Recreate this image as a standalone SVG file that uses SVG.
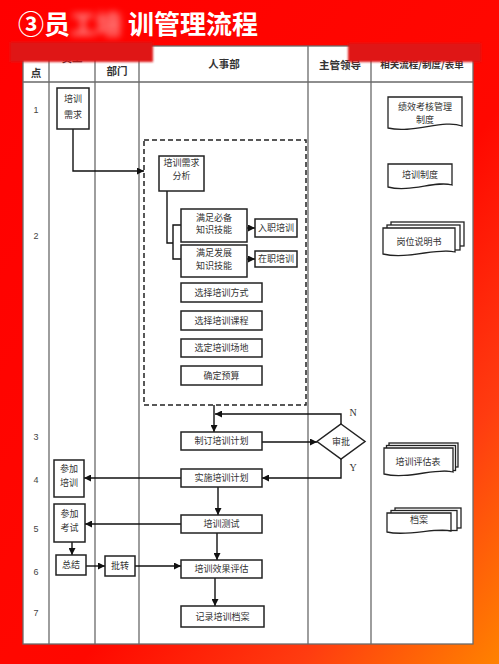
<svg xmlns="http://www.w3.org/2000/svg" width="499" height="664" viewBox="0 0 499 664">
<defs>
<linearGradient id="bg" x1="0" y1="0" x2="1" y2="1">
<stop offset="0" stop-color="#ff0000"/>
<stop offset="0.58" stop-color="#ff0800"/>
<stop offset="0.8" stop-color="#ff3c10"/>
<stop offset="1" stop-color="#ff8200"/>
</linearGradient>
<filter id="blur" x="-20%" y="-50%" width="140%" height="200%"><feGaussianBlur stdDeviation="1.2"/></filter>
<filter id="blur2" x="-20%" y="-50%" width="140%" height="200%"><feGaussianBlur stdDeviation="3.5"/></filter>
<marker id="ah" viewBox="0 0 10 10" refX="10" refY="5" markerWidth="7" markerHeight="7" orient="auto" markerUnits="userSpaceOnUse"><path d="M0,0 L10,5 L0,10 z" fill="#111"/></marker>
<style>
.grid{stroke:#6a6a6a;stroke-width:1.3;fill:none}
.box{fill:#fff;stroke:#222;stroke-width:1.5}
.doc{fill:#fff;stroke:#222;stroke-width:1.3}
.t{font-family:"Noto Sans CJK SC","Noto Sans",sans-serif;font-size:9px;fill:#333;text-anchor:middle}
.h{font-family:"Noto Sans CJK SC","Noto Sans",sans-serif;font-size:10.5px;font-weight:bold;fill:#333;text-anchor:middle}
.n{font-family:"Liberation Sans",sans-serif;font-size:9px;fill:#444;text-anchor:middle}
.yn{font-family:"Liberation Serif",serif;font-size:10px;fill:#333;text-anchor:middle}
.c{fill:none;stroke:#111;stroke-width:1.4}
.ca{fill:none;stroke:#111;stroke-width:1.4;marker-end:url(#ah)}
.ttl{font-family:"Noto Sans CJK SC","Noto Sans",sans-serif;font-size:26px;font-weight:bold;fill:#fff}
</style>
</defs>
<rect x="0" y="0" width="499" height="664" fill="url(#bg)"/>

<!-- title -->
<g id="title">
<text class="ttl" x="18" y="34">③员</text>
<text class="ttl" x="70" y="34" filter="url(#blur2)" opacity="0.6">工培</text>
<text class="ttl" x="128" y="34">训管理流程</text>
</g>

<!-- table -->
<g id="table">
<rect x="23" y="46" width="450" height="598" fill="#fff" stroke="#6a6a6a" stroke-width="1.3"/>
<path class="grid" d="M49,46V644M95,46V644M139,46V644M308,46V644M371,46V644M23,82H473"/>
<text class="h" x="36" y="77">点</text>
<text class="h" x="72" y="62">员工</text>
<text class="h" x="117" y="75">部门</text>
<text class="h" x="224" y="68">人事部</text>
<text class="h" x="340" y="69">主管领导</text>
<text class="h" x="422" y="68" style="font-size:9.5px">相关流程/制度/表单</text>
<text class="n" x="36" y="113">1</text>
<text class="n" x="36" y="239">2</text>
<text class="n" x="36" y="440">3</text>
<text class="n" x="36" y="483">4</text>
<text class="n" x="36" y="532">5</text>
<text class="n" x="36" y="575">6</text>
<text class="n" x="36" y="616">7</text>
</g>

<!-- red smudges over header -->
<g id="smudges">
<rect x="10" y="42" width="143" height="20" fill="#df1818" filter="url(#blur)"/>
<rect x="348" y="43" width="133" height="19" fill="#df1818" filter="url(#blur)"/>
</g>

<!-- connectors -->
<g id="connectors">
<path class="ca" d="M73,129V171H144"/>
<path class="c" d="M167,191V243H173M182,225H173V259H182"/>
<path class="ca" d="M247,228H255"/>
<path class="ca" d="M247,259H255"/>
<path class="ca" d="M214,405V432"/>
<path class="ca" d="M341,424V414H215"/>
<path class="ca" d="M262,442H317"/>
<path class="ca" d="M341,459V478H262"/>
<path class="ca" d="M181,478H84"/>
<path class="ca" d="M218,487V515"/>
<path class="ca" d="M181,524H85"/>
<path class="ca" d="M72,542V555"/>
<path class="ca" d="M86,566H105"/>
<path class="ca" d="M135,566H181"/>
<path class="ca" d="M217,533V560"/>
<path class="ca" d="M215,578V606"/>
<text class="yn" x="353" y="416">N</text>
<text class="yn" x="353" y="471">Y</text>
</g>

<!-- dashed group frame -->
<g id="analysis-frame">
<rect x="144" y="140" width="162" height="265" fill="none" stroke="#222" stroke-width="1.5" stroke-dasharray="5,3"/>
</g>

<g id="n-xuqiu"><rect class="box" x="57" y="88" width="32" height="41"/><text class="t" x="73" y="102">培训</text><text class="t" x="73" y="118">需求</text></g>
<g id="n-fenxi"><rect class="box" x="159" y="156" width="45" height="35"/><text class="t" x="181.5" y="165.5">培训需求</text><text class="t" x="181.5" y="179">分析</text></g>
<g id="n-bibei"><rect class="box" x="181" y="209" width="66" height="33"/><text class="t" x="214" y="220.5">满足必备</text><text class="t" x="214" y="233">知识技能</text></g>
<g id="n-fazhan"><rect class="box" x="181" y="245" width="66" height="32"/><text class="t" x="214" y="256">满足发展</text><text class="t" x="214" y="269">知识技能</text></g>
<g id="n-ruzhi"><rect class="box" x="255" y="219" width="42" height="18"/><text class="t" x="276" y="231">入职培训</text></g>
<g id="n-zaizhi"><rect class="box" x="255" y="251" width="42" height="16"/><text class="t" x="276" y="262">在职培训</text></g>
<g id="n-fangshi"><rect class="box" x="181" y="283" width="81" height="19"/><text class="t" x="221.5" y="295.5">选择培训方式</text></g>
<g id="n-kecheng"><rect class="box" x="181" y="311" width="81" height="19"/><text class="t" x="221.5" y="323.5">选择培训课程</text></g>
<g id="n-changdi"><rect class="box" x="181" y="339" width="81" height="18"/><text class="t" x="221.5" y="351">选定培训场地</text></g>
<g id="n-yusuan"><rect class="box" x="181" y="366" width="81" height="19"/><text class="t" x="221.5" y="378.5">确定预算</text></g>
<g id="n-zhiding"><rect class="box" x="181" y="432" width="81" height="18"/><text class="t" x="221.5" y="444">制订培训计划</text></g>
<g id="n-shenpi"><polygon class="box" points="341,424 365,441.5 341,459 317,441.5"/><text class="t" x="341" y="444.5">审批</text></g>
<g id="n-shishi"><rect class="box" x="181" y="469" width="81" height="18"/><text class="t" x="221.5" y="481">实施培训计划</text></g>
<g id="n-ceshi"><rect class="box" x="181" y="515" width="81" height="18"/><text class="t" x="221.5" y="527">培训测试</text></g>
<g id="n-pinggu"><rect class="box" x="181" y="560" width="81" height="18"/><text class="t" x="221.5" y="572">培训效果评估</text></g>
<g id="n-jilu"><rect class="box" x="181" y="606" width="83" height="21"/><text class="t" x="222.5" y="619.5">记录培训档案</text></g>
<g id="n-canjiapx"><rect class="box" x="54" y="460" width="30" height="37"/><text class="t" x="69" y="472">参加</text><text class="t" x="69" y="485.5">培训</text></g>
<g id="n-canjiaks"><rect class="box" x="54" y="504" width="31" height="38"/><text class="t" x="69.5" y="517">参加</text><text class="t" x="69.5" y="531">考试</text></g>
<g id="n-zongjie"><rect class="box" x="56" y="555" width="30" height="20"/><text class="t" x="71" y="567.5">总结</text></g>
<g id="n-pizhuan"><rect class="box" x="105" y="556" width="30" height="20"/><text class="t" x="120" y="569">批转</text></g>

<!-- documents -->
<g id="d-jixiao"><path class="doc" d="M388,97H462V126C444,119 412,134 388,128Z"/><text class="t" x="425" y="109.5">绩效考核管理</text><text class="t" x="425" y="122.5">制度</text></g>
<g id="d-peixunzhidu"><path class="doc" d="M388,164H452V185C436,180 410,193 388,187Z"/><text class="t" x="420" y="178">培训制度</text></g>
<g id="d-gangwei">
<rect class="doc" x="391" y="222" width="73" height="24"/>
<rect class="doc" x="387" y="225" width="73" height="25"/>
<path class="doc" d="M383,228H455V252C438,247 408,260 383,254Z"/>
<text class="t" x="419" y="245">岗位说明书</text></g>
<g id="d-pinggubiao">
<rect class="doc" x="389" y="443" width="69" height="24"/>
<rect class="doc" x="386.5" y="445.5" width="69" height="25"/>
<path class="doc" d="M384,448H453V472C437,467 408,480 384,474Z"/>
<text class="t" x="418" y="465">培训评估表</text></g>
<g id="d-dangan">
<rect class="doc" x="395" y="508" width="66" height="20"/>
<rect class="doc" x="391" y="510.5" width="66" height="20"/>
<path class="doc" d="M387,513H451V531C436,527 408,537 387,532Z"/>
<text class="t" x="419" y="523">档案</text></g>
</svg>
